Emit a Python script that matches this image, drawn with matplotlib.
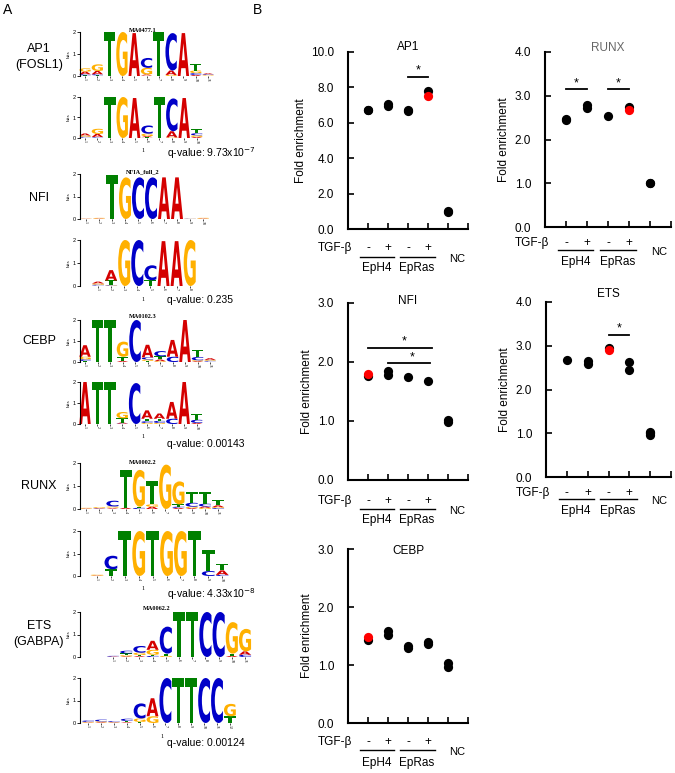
import numpy as np
import matplotlib
matplotlib.use('Agg')
import matplotlib.pyplot as plt
from matplotlib.textpath import TextPath
from matplotlib.patches import PathPatch
from matplotlib.font_manager import FontProperties
from matplotlib.transforms import Affine2D

plt.rcParams['font.family'] = ['Liberation Sans', 'DejaVu Sans']

# ---- motif data (bits per letter, per column) ----
ap1_jaspar = [
    {'T': 0.03, 'C': 0.05, 'A': 0.12, 'G': 0.15},
    {'T': 0.03, 'C': 0.05, 'A': 0.15, 'G': 0.3},
    {'T': 2.0}, {'G': 2.0}, {'A': 1.95},
    {'T': 0.02, 'A': 0.05, 'G': 0.3, 'C': 0.45},
    {'T': 2.0},
    {'G': 0.05, 'A': 0.2, 'C': 1.7},
    {'A': 1.95},
    {'A': 0.05, 'C': 0.08, 'G': 0.12, 'T': 0.3},
    {'T': 0.02, 'G': 0.03, 'C': 0.03, 'A': 0.04},
]
ap1_found = [
    {'T': 0.02, 'C': 0.04, 'G': 0.06, 'A': 0.1},
    {'T': 0.02, 'C': 0.03, 'A': 0.15, 'G': 0.25},
    {'T': 2.0}, {'G': 2.0}, {'A': 1.95},
    {'T': 0.04, 'A': 0.05, 'G': 0.12, 'C': 0.4},
    {'T': 2.0},
    {'G': 0.03, 'A': 0.3, 'C': 1.6},
    {'A': 1.95},
    {'A': 0.05, 'G': 0.08, 'C': 0.1, 'T': 0.2},
]
nfi_jaspar = [
    {'A': 0.01, 'G': 0.01}, {'A': 0.02, 'G': 0.03},
    {'T': 1.95}, {'G': 1.85}, {'C': 1.85}, {'C': 1.85}, {'A': 1.85}, {'A': 1.85},
    {'G': 0.01, 'C': 0.01}, {'A': 0.02, 'G': 0.03},
]
nfi_found = [
    {'T': 0.02, 'C': 0.04, 'G': 0.05, 'A': 0.08},
    {'G': 0.02, 'C': 0.02, 'T': 0.2, 'A': 0.45},
    {'G': 2.0}, {'C': 2.0},
    {'T': 0.25, 'C': 0.65},
    {'A': 1.95}, {'A': 1.95}, {'G': 2.0},
]
cebp_jaspar = [
    {'T': 0.05, 'C': 0.08, 'G': 0.12, 'A': 0.55},
    {'T': 2.0}, {'T': 2.0},
    {'A': 0.05, 'T': 0.2, 'G': 0.72},
    {'C': 2.0},
    {'T': 0.05, 'G': 0.07, 'C': 0.1, 'A': 0.6},
    {'G': 0.04, 'A': 0.08, 'T': 0.15, 'C': 0.25},
    {'C': 0.25, 'A': 0.8},
    {'A': 2.0},
    {'A': 0.04, 'G': 0.04, 'C': 0.16, 'T': 0.35},
    {'T': 0.02, 'C': 0.04, 'G': 0.04, 'A': 0.08},
]
cebp_found = [
    {'A': 2.0}, {'T': 2.0}, {'T': 2.0},
    {'C': 0.02, 'A': 0.05, 'T': 0.2, 'G': 0.3},
    {'C': 1.95},
    {'G': 0.05, 'C': 0.08, 'T': 0.12, 'A': 0.4},
    {'G': 0.05, 'C': 0.1, 'T': 0.1, 'A': 0.25},
    {'C': 0.25, 'A': 0.8},
    {'A': 2.0},
    {'A': 0.05, 'C': 0.15, 'T': 0.3},
]
runx_jaspar = [
    {'A': 0.02, 'G': 0.03}, {'C': 0.02, 'A': 0.02, 'G': 0.04},
    {'A': 0.03, 'T': 0.03, 'G': 0.05, 'C': 0.25},
    {'A': 0.05, 'T': 1.65},
    {'C': 0.05, 'T': 0.05, 'G': 1.6},
    {'A': 0.1, 'G': 0.1, 'T': 1.0},
    {'G': 1.93},
    {'A': 0.05, 'C': 0.05, 'T': 0.1, 'G': 1.0},
    {'A': 0.04, 'G': 0.06, 'C': 0.17, 'T': 0.45},
    {'A': 0.06, 'G': 0.05, 'C': 0.12, 'T': 0.5},
    {'C': 0.04, 'G': 0.04, 'A': 0.08, 'T': 0.25},
]
runx_found = [
    {'A': 0.02, 'G': 0.04},
    {'T': 0.3, 'C': 0.6},
    {'T': 2.0}, {'G': 2.0}, {'T': 2.0}, {'G': 2.0}, {'G': 2.0}, {'T': 2.0},
    {'C': 0.22, 'T': 0.95},
    {'C': 0.05, 'A': 0.2, 'T': 0.3},
]
ets_jaspar = [
    {'A': 0.02, 'C': 0.03},
    {'A': 0.03, 'G': 0.05, 'T': 0.08, 'C': 0.12},
    {'A': 0.04, 'T': 0.05, 'G': 0.1, 'C': 0.3},
    {'C': 0.05, 'T': 0.05, 'G': 0.22, 'A': 0.4},
    {'G': 0.05, 'T': 0.1, 'C': 1.2},
    {'T': 2.0}, {'T': 2.0}, {'C': 2.0}, {'C': 2.0},
    {'A': 0.05, 'T': 0.1, 'G': 1.4},
    {'C': 0.1, 'A': 0.15, 'G': 1.0},
]
ets_found = [
    {'A': 0.02, 'G': 0.03, 'C': 0.06},
    {'A': 0.03, 'G': 0.04, 'C': 0.08},
    {'A': 0.02, 'G': 0.02, 'C': 0.04},
    {'A': 0.03, 'T': 0.06, 'C': 0.1},
    {'T': 0.05, 'G': 0.15, 'C': 0.67},
    {'G': 0.3, 'A': 0.8},
    {'C': 2.0}, {'T': 2.0}, {'T': 2.0}, {'C': 2.0}, {'C': 2.0},
    {'T': 0.3, 'G': 0.55},
]

motif_names = ['AP1\n(FOSL1)', 'NFI', 'CEBP', 'RUNX', 'ETS\n(GABPA)']
jaspar_ids = ['MA0477.1', 'NFIA_full_2', 'MA0102.3', 'MA0002.2', 'MA0062.2']
qvalues = [r'q-value: 9.73x10$^{-7}$', 'q-value: 0.235', 'q-value: 0.00143',
           r'q-value: 4.33x10$^{-8}$', 'q-value: 0.00124']

# ---- ChIP-qPCR data ----
groups = ['EpH4 -', 'EpH4 +', 'EpRas -', 'EpRas +', 'NC']
ap1_x = [1, 1, 2, 2, 3, 3, 4, 5, 5]
ap1_y = [6.75, 6.72, 6.95, 7.08, 6.65, 6.7, 7.81, 1.0, 0.95]
ap1_red_x, ap1_red_y = [4], [7.51]
runx_x = [1, 1, 2, 2, 3, 4, 5, 5]
runx_y = [2.48, 2.45, 2.72, 2.78, 2.53, 2.75, 1.0, 1.0]
runx_red_x, runx_red_y = [4], [2.68]
nfi_x = [1, 2, 2, 3, 4, 5, 5]
nfi_y = [1.77, 1.78, 1.85, 1.75, 1.68, 1.02, 0.98]
nfi_red_x, nfi_red_y = [1], [1.8]
ets_x = [1, 2, 2, 3, 4, 4, 5, 5, 5]
ets_y = [2.67, 2.58, 2.65, 2.96, 2.62, 2.44, 1.0, 0.96, 1.03]
ets_red_x, ets_red_y = [3], [2.9]
cebp_x = [1, 2, 2, 3, 3, 4, 4, 5, 5]
cebp_y = [1.43, 1.52, 1.58, 1.3, 1.33, 1.37, 1.4, 1.04, 0.97]
cebp_red_x, cebp_red_y = [1], [1.48]

W, H = 675, 773
fig = plt.figure(figsize=(W / 100, H / 100), dpi=100)


def px_axes(l, t, r, b):
    return fig.add_axes([l / W, 1 - b / H, (r - l) / W, (b - t) / H])


def ftext(x, y, s, **kw):
    fig.text(x / W, 1 - y / H, s, **kw)


letter_font = FontProperties(family='DejaVu Sans', weight='bold')
letter_colors = {'A': '#d40000', 'C': '#0000c8', 'G': '#ffb000', 'T': '#008000'}


def draw_letter(ax, ch, x, y0, h, w=0.92):
    tp = TextPath((0, 0), ch, size=1, prop=letter_font)
    bb = tp.get_extents()
    tr = (Affine2D().translate(-bb.x0, -bb.y0)
          .scale(w / bb.width, h / bb.height).translate(x - w / 2, y0))
    ax.add_patch(PathPatch(tr.transform_path(tp), fc=letter_colors[ch],
                           ec='none', clip_on=False))


def logo(columns, c0, dx, y2, y0, left=80, right=250):
    ax = px_axes(left, y2, right, y0)
    for i, col in enumerate(columns):
        base = 0
        for ch, h in sorted(col.items(), key=lambda kv: kv[1]):
            draw_letter(ax, ch, i + 1, base, h)
            base += h
    ax.set_xlim((left - c0) / dx + 1, (right - c0) / dx + 1)
    ax.set_ylim(0, 2)
    for s in ['top', 'right', 'bottom']:
        ax.spines[s].set_visible(False)
    ax.spines['left'].set_linewidth(0.8)
    ax.set_yticks([0, 1, 2])
    ax.set_yticklabels(['0', '1', '2'], fontsize=4)
    ax.set_xticks(range(1, len(columns) + 1))
    ax.set_xticklabels([str(i) for i in range(1, len(columns) + 1)],
                       fontsize=3, rotation=-90, family='Liberation Serif')
    ax.tick_params(axis='y', length=2, width=0.6, pad=1)
    ax.tick_params(axis='x', length=1.2, width=0.5, pad=0.5)
    ax.set_ylabel('bits', fontsize=3.8, family='Liberation Serif', labelpad=1)
    ax.patch.set_alpha(0)
    return ax


# ---- panel A ----
ftext(8, 10, 'A', fontsize=10, ha='center', va='center')
logo_specs = [
    (ap1_jaspar, 85, 12.3, 32, 76, ap1_found, 85, 12.4, 97, 138),
    (nfi_jaspar, 86, 13.0, 174, 219, nfi_found, 98, 13.1, 240, 286),
    (cebp_jaspar, 85, 12.5, 320, 362, cebp_found, 85, 12.4, 382, 424),
    (runx_jaspar, 86, 13.2, 463, 509, runx_found, 97, 13.9, 531, 576),
    (ets_jaspar, 113, 13.2, 612, 657, ets_found, 88, 12.9, 678, 723),
]
label_y = [57, 198, 341, 486, 634]
id_pos = [(143, 31), (143, 172), (143, 317), (143, 462), (157, 609)]
one_pos = [(143, 150), (143, 299), (143, 437), (143, 588), (162, 737)]
q_y = [153, 300, 444, 594, 743]

for k, spec in enumerate(logo_specs):
    logo(*spec[:5])
    logo(*spec[5:])
    ftext(39, label_y[k], motif_names[k], fontsize=9, ha='center',
          va='center', linespacing=1.35)
    ftext(id_pos[k][0], id_pos[k][1], jaspar_ids[k], fontsize=4.5, ha='center',
          va='center', family='Liberation Serif', weight='bold')
    ftext(one_pos[k][0], one_pos[k][1], '1', fontsize=4.5, ha='center',
          va='center', family='Liberation Serif')
    ftext(167, q_y[k], qvalues[k], fontsize=7.5, ha='left', va='center')

# ---- panel B ----
ftext(258, 10, 'B', fontsize=10, ha='center', va='center')


def dot_panel(box, title, ymax, step, bx, by, rx, ry, sig, offs,
              title_dy=5, title_color='black'):
    ax = px_axes(*box)
    hpx = box[3] - box[1]
    ax.scatter(bx, by, s=44, c='black', zorder=3, clip_on=False, linewidths=0)
    ax.scatter(rx, ry, s=44, c='#ff0000', zorder=4, clip_on=False, linewidths=0)
    ax.set_xlim(0, 6)
    ax.set_ylim(0, ymax)
    ax.set_xticks(range(1, 7))
    ax.set_xticklabels([])
    ticks = np.arange(0, ymax + 0.001, step)
    ax.set_yticks(ticks)
    ax.set_yticklabels([f'{t:.1f}' for t in ticks])
    ax.tick_params(direction='in', length=4, width=1.2, labelsize=8.5)
    ax.tick_params(axis='y', pad=10)
    for s in ['top', 'right']:
        ax.spines[s].set_visible(False)
    for s in ['left', 'bottom']:
        ax.spines[s].set_linewidth(1.5)
    ax.set_ylabel('Fold enrichment', fontsize=8.5, labelpad=3)
    tr = ax.get_xaxis_transform()
    ax.text(3.0, 1 + title_dy / hpx, title, transform=tr,
            fontsize=8.5, ha='center', va='center', color=title_color)
    for x1, x2, y, xs in sig:
        ax.plot([x1, x2], [y, y], color='black', lw=1.3, clip_on=False)
        ax.annotate('*', (xs, y), xytext=(0, 0), textcoords='offset points',
                    ha='center', va='bottom', fontsize=9)
    o1, o2, o3 = [-o / hpx for o in offs]
    ax.text(0.2, o1, 'TGF-β', transform=tr, ha='right', va='center', fontsize=8.5)
    for i, sgn in enumerate(['-', '+', '-', '+']):
        ax.text(i + 1, o1, sgn, transform=tr, ha='center', va='center', fontsize=8.5)
    ax.plot([0.6, 2.3], [o2, o2], transform=tr, color='black', lw=1.0, clip_on=False)
    ax.plot([2.6, 4.35], [o2, o2], transform=tr, color='black', lw=1.0, clip_on=False)
    ax.text(5.05, o2 - 2 / hpx, 'NC', transform=tr, ha='left', va='center', fontsize=8)
    ax.text(1.45, o3, 'EpH4', transform=tr, ha='center', va='center', fontsize=8.5)
    ax.text(3.45, o3, 'EpRas', transform=tr, ha='center', va='center', fontsize=8.5)
    return ax


dot_panel((348, 52, 468, 229), 'AP1', 10.0, 2.0, ap1_x, ap1_y, ap1_red_x, ap1_red_y,
          [(3, 4, 8.6, 3.5)], (19, 28, 39), title_dy=5)
dot_panel((545, 52, 671, 227), 'RUNX', 4.0, 1.0, runx_x, runx_y, runx_red_x, runx_red_y,
          [(1, 2, 3.15, 1.5), (3, 4, 3.15, 3.5)], (16, 23, 35),
          title_dy=4, title_color='#666666')
dot_panel((348, 303, 468, 480), 'NFI', 3.0, 1.0, nfi_x, nfi_y, nfi_red_x, nfi_red_y,
          [(1, 4.2, 2.24, 2.8), (2, 4.1, 1.98, 3.2)], (21, 29, 40), title_dy=2)
dot_panel((546, 302, 671, 477), 'ETS', 4.0, 1.0, ets_x, ets_y, ets_red_x, ets_red_y,
          [(3, 4, 3.25, 3.5)], (16, 22, 34), title_dy=8)
dot_panel((348, 549, 468, 723), 'CEBP', 3.0, 1.0, cebp_x, cebp_y, cebp_red_x, cebp_red_y,
          [], (19, 27, 40), title_dy=-2)

fig.savefig('out.png', dpi=100)
